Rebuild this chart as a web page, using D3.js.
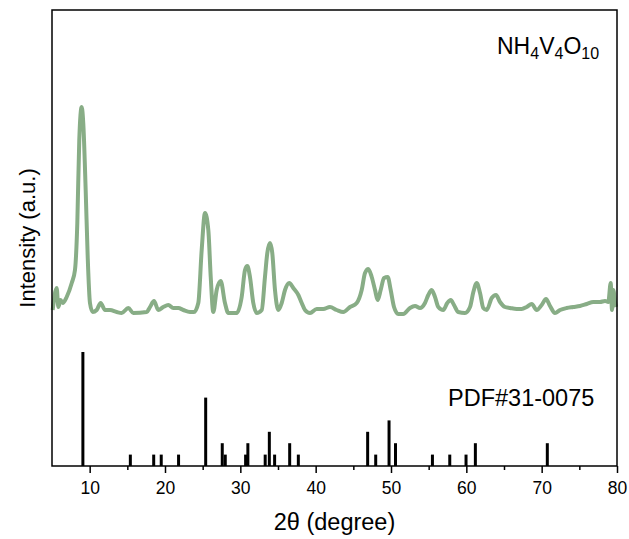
<!DOCTYPE html>
<html>
<head>
<meta charset="utf-8">
<script src="https://cdn.jsdelivr.net/npm/d3@7"></script>
<style>
  body { margin: 0; background: #fff; }
  svg { display: block; font-family: "Liberation Sans", Arial, sans-serif; }
</style>
</head>
<body>
<div id="vis"></div>
<script>
// measured pattern (2theta in degree, intensity in a.u.)
const scanAngle = [
  5.09, 5.62, 5.84, 6.15, 6.42, 6.95, 7.62, 8.05, 8.36, 8.62, 8.94, 9.15, 9.47, 9.74,
  10.04, 10.40, 10.93, 11.46, 12.04, 12.70, 13.59, 14.25, 15.13, 15.79, 17.57, 18.01,
  18.54, 19.11, 19.77, 20.44, 21.10, 21.77, 22.43, 23.32, 23.85, 24.42, 24.87, 25.31,
  25.75, 26.07, 26.41, 26.86, 27.39, 27.96, 28.40, 29.52, 30.18, 30.62, 30.93, 31.28,
  31.72, 32.17, 32.84, 33.27, 33.58, 33.94, 34.24, 34.60, 35.04, 35.49, 35.93, 36.50,
  37.03, 37.70, 38.15, 38.58, 39.25, 40.14, 41.01, 41.90, 42.79, 43.67, 44.56, 45.45,
  46.11, 46.55, 46.99, 47.44, 47.88, 48.23, 48.63, 49.07, 49.56, 49.96, 50.40, 50.97,
  51.63, 52.52, 53.19, 53.85, 54.51, 54.95, 55.40, 55.84, 56.28, 56.94, 57.47, 57.93,
  58.36, 58.93, 59.82, 60.49, 60.93, 61.38, 61.82, 62.25, 62.70, 63.37, 63.94, 64.47,
  65.13, 65.80, 66.69, 67.35, 68.01, 68.68, 69.34, 70.00, 70.58, 71.11, 71.77, 72.44,
  73.32, 74.20, 75.09, 75.98, 76.86, 77.74, 78.41, 78.85, 79.16, 79.34, 79.51, 79.74, 79.87
];
const scanIntensity = [
  156, 178, 159, 166, 163, 169, 183, 196, 243, 326, 359, 343, 276, 209,
  163, 154, 156, 163, 156, 156, 154, 153, 158, 153, 154, 159,
  165, 156, 159, 161, 158, 158, 156, 154, 154, 163, 216, 253,
  236, 189, 154, 176, 185, 163, 153, 153, 169, 196, 200, 189,
  163, 153, 156, 189, 213, 223, 213, 176, 156, 163, 176, 183,
  178, 171, 163, 156, 153, 157, 157, 159, 156, 154, 159, 163,
  176, 193, 197, 189, 176, 166, 176, 188, 189, 176, 159, 152,
  152, 158, 160, 158, 163, 171, 176, 169, 159, 156, 163, 166,
  161, 154, 153, 159, 174, 183, 173, 158, 156, 168, 171, 164,
  159, 158, 157, 157, 159, 162, 156, 161, 167, 160, 153, 156,
  158, 159, 160, 162, 164, 164, 165, 164, 183, 156, 176, 164, 159
];

// reference card PDF#31-0075 (relative intensity)
const refAngle = [
  9.1, 15.4, 18.5, 19.5, 21.8, 25.4, 27.6, 28.0, 30.7, 31.0, 33.3, 33.85,
  34.55, 36.55, 37.7, 46.9, 47.97, 49.74, 50.6, 55.5, 57.8, 59.96, 61.2, 70.75
];
const refIntensity = [
  100, 10, 10, 10, 10, 60, 20, 10, 10, 20, 10, 30,
  10, 20, 10, 30, 10, 40, 20, 10, 10, 10, 20, 20
];

const xTicks = [10, 20, 30, 40, 50, 60, 70, 80];
const xMinorTicks = [15, 25, 35, 45, 55, 65, 75];

const WIDTH = 629;
const HEIGHT = 539;
const MARGIN = { top: 10, right: 12, bottom: 73, left: 52 };

const SVG = d3.select("#vis").append("svg")
  .attr("width", WIDTH)
  .attr("height", HEIGHT);

SVG.append("rect")
  .attr("width", WIDTH)
  .attr("height", HEIGHT)
  .attr("fill", "#fff");

const escalaX = d3.scaleLinear()
  .domain([5, 80])
  .range([MARGIN.left, WIDTH - MARGIN.right]);

const yBottom = HEIGHT - MARGIN.bottom;

const escalaY = d3.scaleLinear()
  .domain([0, 456])
  .range([yBottom, MARGIN.top]);

const escalaYRef = d3.scaleLinear()
  .domain([0, 100])
  .range([yBottom, yBottom - 114]);

const scan = scanAngle.map((a, i) => ({ a: a, v: scanIntensity[i] }));
const ref = refAngle.map((a, i) => ({ a: a, v: refIntensity[i] }));

// curva medida
const linea = d3.line()
  .x(d => escalaX(d.a))
  .y(d => escalaY(d.v))
  .curve(d3.curveMonotoneX);

SVG.append("path")
  .datum(scan)
  .attr("fill", "none")
  .attr("stroke", "#88ad86")
  .attr("stroke-width", 4)
  .attr("stroke-linejoin", "round")
  .attr("d", linea);

// barras de la ficha
SVG.selectAll(".ref")
  .data(ref)
  .join("line")
  .attr("class", "ref")
  .attr("x1", d => escalaX(d.a))
  .attr("x2", d => escalaX(d.a))
  .attr("y1", escalaYRef(0))
  .attr("y2", d => escalaYRef(d.v))
  .attr("stroke", "#000")
  .attr("stroke-width", 3);

// marco
SVG.append("rect")
  .attr("x", MARGIN.left)
  .attr("y", MARGIN.top)
  .attr("width", WIDTH - MARGIN.left - MARGIN.right)
  .attr("height", yBottom - MARGIN.top)
  .attr("fill", "none")
  .attr("stroke", "#000")
  .attr("stroke-width", 1.5);

// eje x
const ejeX = d3.axisBottom(escalaX)
  .tickValues(xTicks)
  .tickSize(7)
  .tickPadding(9)
  .tickFormat(d3.format("d"));

const gx = SVG.append("g")
  .attr("transform", `translate(0, ${yBottom})`)
  .call(ejeX);
gx.select(".domain").remove();
gx.selectAll("line").attr("stroke-width", 1.5);
gx.selectAll("text")
  .attr("font-size", 17.5)
  .attr("font-family", "Liberation Sans, Arial, sans-serif")
  .attr("fill", "#000");

const ejeXMinor = d3.axisBottom(escalaX)
  .tickValues(xMinorTicks)
  .tickSize(4)
  .tickFormat("");

const gxm = SVG.append("g")
  .attr("transform", `translate(0, ${yBottom})`)
  .call(ejeXMinor);
gxm.select(".domain").remove();
gxm.selectAll("line").attr("stroke-width", 1.5);

// titulos
SVG.append("text")
  .attr("x", (escalaX(5) + escalaX(80)) / 2)
  .attr("y", 530)
  .attr("text-anchor", "middle")
  .attr("font-size", 23.5)
  .text("2θ (degree)");

SVG.append("text")
  .attr("transform", `translate(35, ${(MARGIN.top + yBottom) / 2}) rotate(-90)`)
  .attr("text-anchor", "middle")
  .attr("font-size", 22)
  .text("Intensity (a.u.)");

// etiquetas
const formula = SVG.append("text")
  .attr("x", 497)
  .attr("y", 54)
  .attr("font-size", 23);
[["NH", false], ["4", true], ["V", false], ["4", true], ["O", false], ["10", true]].forEach(([t, sub]) => {
  formula.append("tspan")
    .attr("font-size", sub ? 16 : 23)
    .attr("dy", sub ? 5 : -5)
    .text(t);
});
formula.select("tspan").attr("dy", 0);

SVG.append("text")
  .attr("x", 448)
  .attr("y", 406)
  .attr("font-size", 23.5)
  .text("PDF#31-0075");
</script>
</body>
</html>
